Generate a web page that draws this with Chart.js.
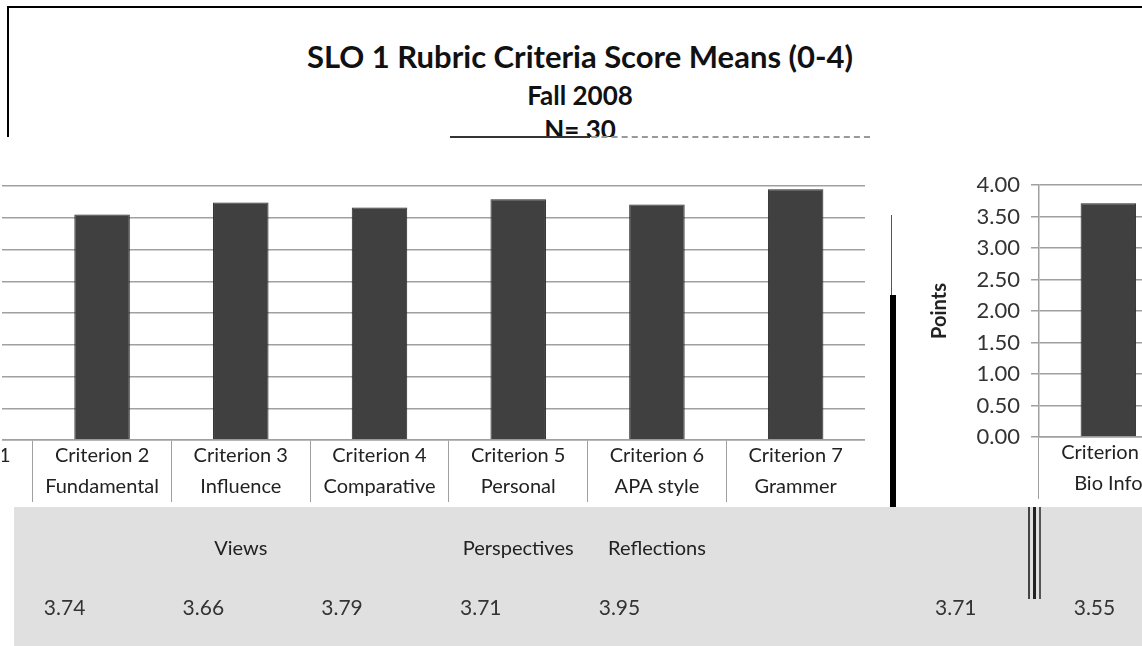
<!DOCTYPE html>
<html>
<head>
<meta charset="utf-8">
<script src="https://cdn.jsdelivr.net/npm/chart.js@4.4.1/dist/chart.umd.min.js"></script>
<style>
body{margin:0;width:1142px;height:646px;overflow:hidden;position:relative;background:#fff;font-family:Lato,sans-serif}
#band{position:absolute;left:14px;top:507px;width:1128px;height:139px;background:#e0e0e0}
#titlebox{position:absolute;left:7px;top:6px;width:1140px;height:129px;border-top:2px solid #000;border-left:2px solid #000;overflow:hidden}
.t{position:absolute;left:-7px;width:1156px;text-align:center;font-weight:bold;color:#111;white-space:nowrap}
#uline{position:absolute;left:450px;top:136px;width:420px;height:0;border-top:2px dashed #999}
#uline2{position:absolute;left:450px;top:136px;width:140px;height:2px;background:#333}
#lwrap{position:absolute;left:2px;top:0;width:1140px;height:646px;overflow:hidden}
#c1{position:absolute;left:-108px;top:150px}
#c2{position:absolute;left:920px;top:150px}
.bk{position:absolute;background:#000}
</style>
</head>
<body>
<div id="band"></div>
<div id="titlebox">
  <div class="t" style="top:29px;font-size:31px">SLO 1 Rubric Criteria Score Means (0-4)</div>
  <div class="t" style="top:71px;font-size:26px">Fall 2008</div>
  <div class="t" style="top:105px;font-size:26px">N= 30</div>
</div>
<div id="uline"></div>
<div id="uline2"></div>
<div id="lwrap"><canvas id="c1" width="971" height="496"></canvas></div>
<canvas id="c2" width="1090" height="496"></canvas>
<div class="bk" style="left:891px;top:215px;width:1px;height:80px;background:#555"></div>
<div class="bk" style="left:890px;top:295px;width:6px;height:212px"></div>
<div class="bk" style="left:1028px;top:507px;width:2px;height:92px;background:#444"></div>
<div class="bk" style="left:1033px;top:507px;width:3px;height:92px;background:#222"></div>
<div class="bk" style="left:1039px;top:507px;width:2px;height:92px;background:#555"></div>
<script>
const criteria = [
  ["Criterion 1", "Bio Info", "", ""],
  ["Criterion 2", "Fundamental", "", ""],
  ["Criterion 3", "Influence", "", "Views"],
  ["Criterion 4", "Comparative", "", ""],
  ["Criterion 5", "Personal", "", "Perspectives"],
  ["Criterion 6", "APA style", "", "Reflections"],
  ["Criterion 7", "Grammer", "", ""]
];
const means = [3.71, 3.55, 3.74, 3.66, 3.79, 3.71, 3.95];
const yTicks = [0, 0.5, 1, 1.5, 2, 2.5, 3, 3.5, 4];

const GRID = '#a0a0a0';

// values row under the chart (data table), drawn from the x scale
function tableRow(shift) {
  return {
    id: 'tableRow',
    afterDraw(chart) {
      const ctx = chart.ctx, xs = chart.scales.x;
      ctx.save();
      ctx.font = '21px Lato';
      ctx.fillStyle = '#333';
      ctx.textAlign = 'center';
      ctx.textBaseline = 'middle';
      means.forEach((v, i) => {
        ctx.fillText(v.toFixed(2), xs.getPixelForValue(i) + shift * xs.width / means.length, 458);
      });
      ctx.restore();
    }
  };
}

function makeChart(id, showY, padTop, chartBottom, shift) {
  return new Chart(document.getElementById(id), {
    type: 'bar',
    data: {
      labels: criteria,
      datasets: [{
        data: means,
        backgroundColor: '#404040',
        borderColor: '#262626',
        borderWidth: 1,
        categoryPercentage: 1,
        barPercentage: 0.4
      }]
    },
    options: {
      responsive: false,
      animation: false,
      layout: { padding: { top: padTop, left: 0, right: 0, bottom: 0 } },
      plugins: { legend: { display: false }, tooltip: { enabled: false } },
      scales: {
        x: {
          offset: true,
          grid: { drawOnChartArea: false, drawTicks: true, tickLength: 62, color: GRID },
          border: { color: GRID, width: 1.5 },
          ticks: { font: { family: 'Lato', size: 20, lineHeight: 1.55 }, color: '#222', padding: -62, maxRotation: 0, autoSkip: false },
          afterFit: s => { s.height = chartBottom; }
        },
        y: {
          min: 0, max: 4,
          afterBuildTicks: s => { s.ticks = yTicks.map(v => ({ value: v })); },
          grid: { color: GRID, lineWidth: 1.5, drawTicks: showY, tickLength: 8 },
          border: { display: showY, color: GRID, width: 1.5 },
          ticks: { display: showY, font: { family: 'Lato', size: 22 }, color: '#333', padding: 11,
                   callback: v => v.toFixed(2) },
          title: { display: showY, text: 'Points', font: { family: 'Lato', size: 20, weight: 'bold' }, color: '#222', padding: 8 },
          afterFit: s => { s.width = showY ? 119 : 0; }
        }
      }
    },
    plugins: [tableRow(shift)]
  });
}

makeChart('c1', false, 36, 496 - 290, -1.27);
makeChart('c2', true, 35, 496 - 287, -1.1);
</script>
</body>
</html>
